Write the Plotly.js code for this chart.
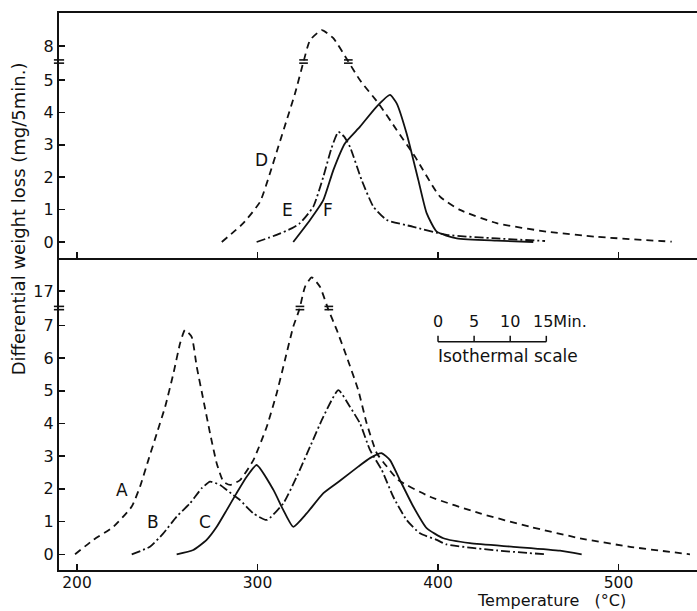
<!DOCTYPE html>
<html>
<head>
<meta charset="utf-8">
<script src="https://cdn.plot.ly/plotly-3.0.1.min.js"></script>
<style>html,body{margin:0;padding:0;background:#fff;}#chart{width:697px;height:611px;}</style>
</head>
<body>
<div id="chart"></div>
<script>
// ---- Data (temperature in °C, differential weight loss in mg/5min) ----
// Upper panel
const D_T = [280.2, 292.1, 301.4, 306.9, 311.5, 316.2, 320.8, 325.5, 329.1, 335.6, 342.0, 350.3, 356.8, 367.0, 377.1, 387.3, 401.1, 412.2, 432.5, 460.2, 487.9, 529.5];
const D_Y = [0, 0.58, 1.24, 2.12, 2.94, 3.77, 4.59, 5.57, 8.18, 8.49, 8.24, 5.57, 4.99, 4.28, 3.46, 2.63, 1.40, 0.99, 0.58, 0.32, 0.16, 0.01];
const E_T = [299.5, 310.6, 318.9, 323.5, 330.9, 336.5, 341.0, 344.8, 348.0, 351.2, 357.7, 364.2, 371.6, 386.3, 404.8, 432.5, 459.3];
const E_Y = [0, 0.22, 0.42, 0.58, 1.09, 2.02, 2.90, 3.40, 3.25, 2.94, 1.91, 1.09, 0.68, 0.47, 0.22, 0.11, 0.03];
const F_T = [319.8, 329.1, 336.5, 342.0, 348.5, 356.8, 366.0, 373.4, 377.1, 382.6, 389.1, 393.7, 399.3, 410.4, 432.5, 452.8];
const F_Y = [0, 0.68, 1.30, 2.22, 3.05, 3.56, 4.18, 4.54, 4.28, 3.35, 1.91, 0.89, 0.32, 0.11, 0.04, 0.0];
// Lower panel
const A_T = [198.9, 209.0, 220.1, 230.3, 234.9, 239.5, 244.2, 248.8, 253.4, 257.1, 259.8, 263.5, 266.3, 270.0, 273.7, 277.4, 281.1, 284.8, 290.3, 297.7, 305.1, 310.6, 315.2, 319.8, 323.2, 326.3, 330.0, 334.6, 339.2, 343.9, 349.4, 355.8, 360.5, 366.1, 371.7, 378.0, 395.6, 423.3, 451.0, 478.7, 506.4, 539.6];
const A_Y = [0, 0.44, 0.84, 1.46, 2.07, 2.88, 3.70, 4.51, 5.53, 6.45, 6.86, 6.65, 5.74, 4.72, 3.70, 2.78, 2.22, 2.12, 2.27, 2.88, 3.90, 4.92, 5.94, 6.96, 7.49, 17.13, 17.42, 17.13, 7.49, 6.86, 6.04, 5.02, 4.00, 3.09, 2.68, 2.27, 1.76, 1.25, 0.84, 0.49, 0.23, 0.0];
const B_T = [230.3, 240.4, 247.8, 255.2, 262.6, 269.1, 273.7, 279.2, 286.6, 290.3, 297.7, 305.1, 314.3, 321.7, 329.1, 336.5, 344.8, 351.2, 356.8, 362.3, 368.8, 375.2, 382.6, 390.0, 399.3, 404.8, 432.5, 459.3];
const B_Y = [0, 0.23, 0.64, 1.15, 1.56, 2.02, 2.22, 2.12, 1.81, 1.66, 1.25, 1.05, 1.56, 2.37, 3.29, 4.21, 5.02, 4.51, 4.00, 3.19, 2.58, 1.76, 1.05, 0.64, 0.44, 0.30, 0.12, 0.0];
const C_T = [255.2, 264.4, 271.8, 277.4, 282.9, 288.4, 294.0, 299.5, 308.8, 314.3, 319.8, 327.2, 336.5, 346.2, 355.8, 362.3, 368.8, 373.4, 378.9, 386.3, 393.7, 403.0, 417.7, 441.7, 467.6, 479.6];
const C_Y = [0, 0.13, 0.44, 0.84, 1.35, 1.87, 2.37, 2.73, 1.97, 1.35, 0.84, 1.25, 1.87, 2.27, 2.68, 2.94, 3.09, 2.88, 2.27, 1.46, 0.80, 0.49, 0.34, 0.23, 0.11, 0.0];

// Axis tick labels
const X_TICKS = [200, 300, 400, 500];
const TOP_TICKS = [0, 1, 2, 3, 4, 5, 8];
const BOTTOM_TICKS = [0, 1, 2, 3, 4, 5, 6, 7, 17];

// Curve labels
const LABELS = ['A', 'B', 'C', 'D', 'E', 'F'];
const LABEL_T = [224.7, 242.3, 270.9, 302.3, 316.5, 339.2];
const LABEL_Y = [1.96, 1.0, 1.0, 2.53, 0.99, 0.99];

// Isothermal scale (minutes)
const SCALE_MIN = [0, 5, 10, 15];

// Broken-axis settings
const TOP_BREAK = 5.57, TOP_SHIFT = 1.95;
const BOT_BREAK = 7.53, BOT_SHIFT = 8.95;
const mapTop = v => v > 7 ? v - TOP_SHIFT : v;
const mapBot = v => v > 12 ? v - BOT_SHIFT : v;
const TOP_BREAK_T = [325.5, 350.3];
const BOT_BREAK_T = [323.5, 339.5];

const INK = '#111';
const DASH = '7px,5px';
const DASHDOT = '9px,3px,2px,3px';

function curve(T, Y, mapFn, dash, xa, ya) {
  return {
    x: T, y: Y.map(mapFn), xaxis: xa, yaxis: ya, type: 'scatter', mode: 'lines',
    line: {color: INK, width: 1.8, dash: dash, shape: 'spline', smoothing: 0.5},
    hoverinfo: 'skip'
  };
}

const traces = [
  curve(D_T, D_Y, mapTop, DASH, 'x2', 'y2'),
  curve(E_T, E_Y, mapTop, DASHDOT, 'x2', 'y2'),
  curve(F_T, F_Y, mapTop, 'solid', 'x2', 'y2'),
  curve(A_T, A_Y, mapBot, DASH, 'x', 'y'),
  curve(B_T, B_Y, mapBot, DASHDOT, 'x', 'y'),
  curve(C_T, C_Y, mapBot, 'solid', 'x', 'y')
];

const FONT = 'DejaVu Sans, Liberation Sans, sans-serif';
const shapes = [];
function breakMark(xref, yref, xc, yc, halfW, gap) {
  [-gap, gap].forEach(d => shapes.push({type: 'line', xref: xref, yref: yref,
    x0: xc - halfW, x1: xc + halfW, y0: yc + d, y1: yc + d, line: {color: INK, width: 1.6}}));
}
TOP_BREAK_T.forEach(t => breakMark('x2', 'y2', t, TOP_BREAK, 2.4, 0.05));
BOT_BREAK_T.forEach(t => breakMark('x', 'y', t, BOT_BREAK, 2.4, 0.05));
breakMark('paper', 'y2', 0, TOP_BREAK, 0.008, 0.05);
breakMark('paper', 'y', 0, BOT_BREAK, 0.008, 0.05);

// isothermal scale bar: 4 °C per minute, starting at 400 °C
const scaleX = m => 400 + 4 * m;
shapes.push({type: 'line', xref: 'x', yref: 'y', x0: scaleX(SCALE_MIN[0]), x1: scaleX(SCALE_MIN[SCALE_MIN.length - 1]),
  y0: 6.5, y1: 6.5, line: {color: INK, width: 1.5}});
SCALE_MIN.forEach(m => shapes.push({type: 'line', xref: 'x', yref: 'y', x0: scaleX(m), x1: scaleX(m),
  y0: 6.5, y1: 6.68, line: {color: INK, width: 1.5}}));

const annotations = [];
function ann(o) { annotations.push(Object.assign({showarrow: false, xanchor: 'center', yanchor: 'middle'}, o)); }
LABELS.forEach((s, i) => {
  const top = i >= 3;
  ann({text: s, x: LABEL_T[i], y: LABEL_Y[i], xref: top ? 'x2' : 'x', yref: top ? 'y2' : 'y',
    font: {family: FONT, size: 17, color: INK}});
});
SCALE_MIN.slice(0, 3).forEach(m => ann({text: String(m), x: scaleX(m), y: 7.12, xref: 'x', yref: 'y',
  font: {family: FONT, size: 16, color: INK}}));
ann({text: String(SCALE_MIN[3]) + 'Min.', x: 451.5, y: 7.12, xref: 'x', yref: 'y', xanchor: 'left',
  font: {family: FONT, size: 16, color: INK}});
ann({text: 'Isothermal scale', x: 438.5, y: 6.06, xref: 'x', yref: 'y',
  font: {family: FONT, size: 17, color: INK}});
ann({text: 'Differential weight loss (mg/5min.)', textangle: -90, x: -0.064, y: 0.63,
  xref: 'paper', yref: 'paper', font: {family: FONT, size: 18, color: INK}});
ann({text: 'Temperature\u00a0\u00a0\u00a0(°C)', x: 0.772, y: -0.0735, xref: 'paper', yref: 'paper',
  yanchor: 'bottom', borderpad: 0, font: {family: FONT, size: 16, color: INK}});

const common = {showgrid: false, zeroline: false, showline: true, linecolor: INK, linewidth: 2.2,
  ticks: 'inside', ticklen: 6, tickwidth: 1.5, tickcolor: INK, tickfont: {family: FONT, size: 16, color: INK}};
const SPLIT = 312 / 557;

const layout = {
  width: 697, height: 611,
  margin: {l: 59, r: 0, t: 13, b: 41},
  paper_bgcolor: '#fff', plot_bgcolor: '#fff', showlegend: false,
  font: {family: FONT, size: 16, color: INK},
  xaxis: Object.assign({}, common, {domain: [0, 1], range: [190, 543.5], anchor: 'y', tickvals: X_TICKS, ticktext: X_TICKS.map(String),
    tickfont: {family: FONT, size: 15.5, color: INK}, ticklabelstandoff: -3}),
  yaxis: Object.assign({}, common, {domain: [0, SPLIT], range: [-0.48, 9.06], anchor: 'x',
    tickvals: BOTTOM_TICKS.map(mapBot), ticktext: BOTTOM_TICKS.map(String)}),
  xaxis2: Object.assign({}, common, {domain: [0, 1], range: [190, 543.5], anchor: 'y2', mirror: true,
    tickvals: X_TICKS, showticklabels: false}),
  yaxis2: Object.assign({}, common, {domain: [SPLIT, 1], range: [-0.494, 7.068], anchor: 'x2',
    tickvals: TOP_TICKS.map(mapTop), ticktext: TOP_TICKS.map(String)}),
  shapes: shapes,
  annotations: annotations
};

Plotly.newPlot('chart', traces, layout, {staticPlot: true, displayModeBar: false});
</script>
</body>
</html>
